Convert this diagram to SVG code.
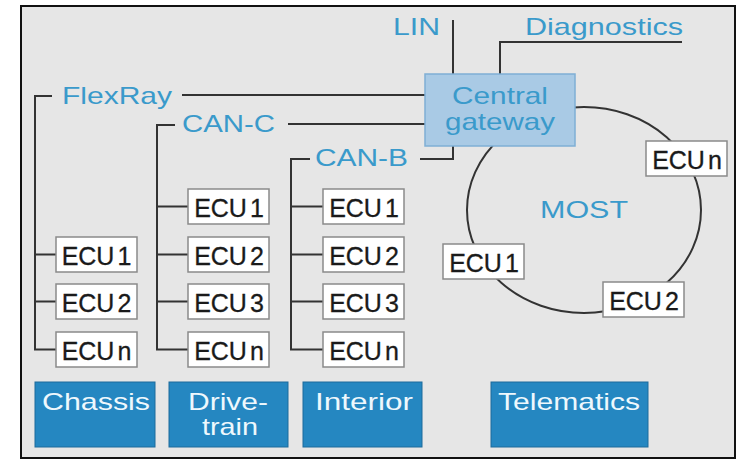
<svg xmlns="http://www.w3.org/2000/svg" width="738" height="460" viewBox="0 0 738 460">
  <style>
    .bus { fill: none; stroke: #333333; stroke-width: 2; }
    .box { fill: #ffffff; stroke: #8a8a8a; stroke-width: 1.5; }
    .ecu text { font-family: "Liberation Sans", Arial, sans-serif; font-size: 25px; fill: #1a1a1a; text-anchor: middle; stroke: #1a1a1a; stroke-width: 0.3; }
    .label { font-family: "Liberation Sans", Arial, sans-serif; font-size: 24px; fill: #3a9acb; }
    .domain rect { fill: #2587c1; stroke: #1d6b9b; stroke-width: 1; }
    .domain text { font-family: "Liberation Sans", Arial, sans-serif; font-size: 24px; fill: #eef8fd; }
  </style>

  <!-- page background and frame -->
  <rect x="0" y="0" width="738" height="460" fill="#ffffff"/>
  <rect x="21" y="6" width="714" height="452" fill="#e6e6e6" stroke="#111111" stroke-width="2"/>

  <!-- bus lines -->
  <g id="connectors">
    <!-- FlexRay -->
    <path class="bus" d="M52,96 H35 V349.5 H56 M35,254.5 H56 M35,301.5 H56"/>
    <path class="bus" d="M182,95 H426"/>
    <!-- CAN-C -->
    <path class="bus" d="M175,125 H157 V349.5 H188 M157,206.5 H188 M157,254.5 H188 M157,301.5 H188"/>
    <path class="bus" d="M288,124 H426"/>
    <!-- CAN-B -->
    <path class="bus" d="M310,159 H291 V349.5 H323 M291,206.5 H323 M291,254.5 H323 M291,301.5 H323"/>
    <path class="bus" d="M420,159 H453 V146"/>
    <!-- LIN -->
    <path class="bus" d="M453,20 V74"/>
    <!-- Diagnostics -->
    <path class="bus" d="M682,42 H500 V74"/>
    <!-- MOST ring -->
    <ellipse class="bus" cx="584" cy="210" rx="117" ry="103"/>
  </g>

  <!-- bus labels -->
  <g id="labels">
    <text class="label" x="62" y="104" textLength="110" lengthAdjust="spacingAndGlyphs">FlexRay</text>
    <text class="label" x="182" y="132" textLength="93" lengthAdjust="spacingAndGlyphs">CAN-C</text>
    <text class="label" x="315" y="166" textLength="93" lengthAdjust="spacingAndGlyphs">CAN-B</text>
    <text class="label" x="393" y="35" textLength="47" lengthAdjust="spacingAndGlyphs">LIN</text>
    <text class="label" x="525" y="35" textLength="158" lengthAdjust="spacingAndGlyphs">Diagnostics</text>
    <text class="label" x="540" y="218" textLength="88" lengthAdjust="spacingAndGlyphs">MOST</text>
  </g>

  <!-- central gateway -->
  <g id="gateway">
    <rect x="425" y="74" width="150" height="72" fill="#a9cae5" stroke="#7fafd5" stroke-width="1.5"/>
    <text class="label" x="452" y="104" textLength="96" lengthAdjust="spacingAndGlyphs">Central</text>
    <text class="label" x="445" y="130" textLength="110" lengthAdjust="spacingAndGlyphs">gateway</text>
  </g>

  <!-- FlexRay ECUs (chassis) -->
  <g id="flexray-ecu1" class="ecu"><rect class="box" x="56" y="237" width="81" height="35"/><text x="96.5" y="265">ECU<tspan dx="3">1</tspan></text></g>
  <g id="flexray-ecu2" class="ecu"><rect class="box" x="56" y="284" width="81" height="35"/><text x="96.5" y="312">ECU<tspan dx="3">2</tspan></text></g>
  <g id="flexray-ecun" class="ecu"><rect class="box" x="56" y="332" width="81" height="35"/><text x="96.5" y="360">ECU<tspan dx="3">n</tspan></text></g>

  <!-- CAN-C ECUs (drivetrain) -->
  <g id="canc-ecu1" class="ecu"><rect class="box" x="188" y="189" width="81" height="35"/><text x="229" y="217">ECU<tspan dx="3">1</tspan></text></g>
  <g id="canc-ecu2" class="ecu"><rect class="box" x="188" y="237" width="81" height="35"/><text x="229" y="265">ECU<tspan dx="3">2</tspan></text></g>
  <g id="canc-ecu3" class="ecu"><rect class="box" x="188" y="284" width="81" height="35"/><text x="229" y="312">ECU<tspan dx="3">3</tspan></text></g>
  <g id="canc-ecun" class="ecu"><rect class="box" x="188" y="332" width="81" height="35"/><text x="229" y="360">ECU<tspan dx="3">n</tspan></text></g>

  <!-- CAN-B ECUs (interior) -->
  <g id="canb-ecu1" class="ecu"><rect class="box" x="323" y="189" width="81" height="35"/><text x="364" y="217">ECU<tspan dx="3">1</tspan></text></g>
  <g id="canb-ecu2" class="ecu"><rect class="box" x="323" y="237" width="81" height="35"/><text x="364" y="265">ECU<tspan dx="3">2</tspan></text></g>
  <g id="canb-ecu3" class="ecu"><rect class="box" x="323" y="284" width="81" height="35"/><text x="364" y="312">ECU<tspan dx="3">3</tspan></text></g>
  <g id="canb-ecun" class="ecu"><rect class="box" x="323" y="332" width="81" height="35"/><text x="364" y="360">ECU<tspan dx="3">n</tspan></text></g>

  <!-- MOST ECUs (telematics) -->
  <g id="most-ecun" class="ecu"><rect class="box" x="646" y="141" width="81" height="35"/><text x="687" y="169">ECU<tspan dx="3">n</tspan></text></g>
  <g id="most-ecu1" class="ecu"><rect class="box" x="443" y="244" width="81" height="35"/><text x="484" y="272">ECU<tspan dx="3">1</tspan></text></g>
  <g id="most-ecu2" class="ecu"><rect class="box" x="603" y="282" width="81" height="35"/><text x="644" y="310">ECU<tspan dx="3">2</tspan></text></g>

  <!-- vehicle domains -->
  <g id="chassis" class="domain">
    <rect x="35" y="382" width="120" height="65"/>
    <text x="42" y="410" textLength="108" lengthAdjust="spacingAndGlyphs">Chassis</text>
  </g>
  <g id="drivetrain" class="domain">
    <rect x="169" y="382" width="119" height="65"/>
    <text x="188" y="410" textLength="80" lengthAdjust="spacingAndGlyphs">Drive-</text>
    <text x="202" y="435" textLength="56" lengthAdjust="spacingAndGlyphs">train</text>
  </g>
  <g id="interior" class="domain">
    <rect x="303" y="382" width="119" height="65"/>
    <text x="315" y="410" textLength="98" lengthAdjust="spacingAndGlyphs">Interior</text>
  </g>
  <g id="telematics" class="domain">
    <rect x="491" y="382" width="157" height="65"/>
    <text x="498" y="410" textLength="142" lengthAdjust="spacingAndGlyphs">Telematics</text>
  </g>
</svg>
